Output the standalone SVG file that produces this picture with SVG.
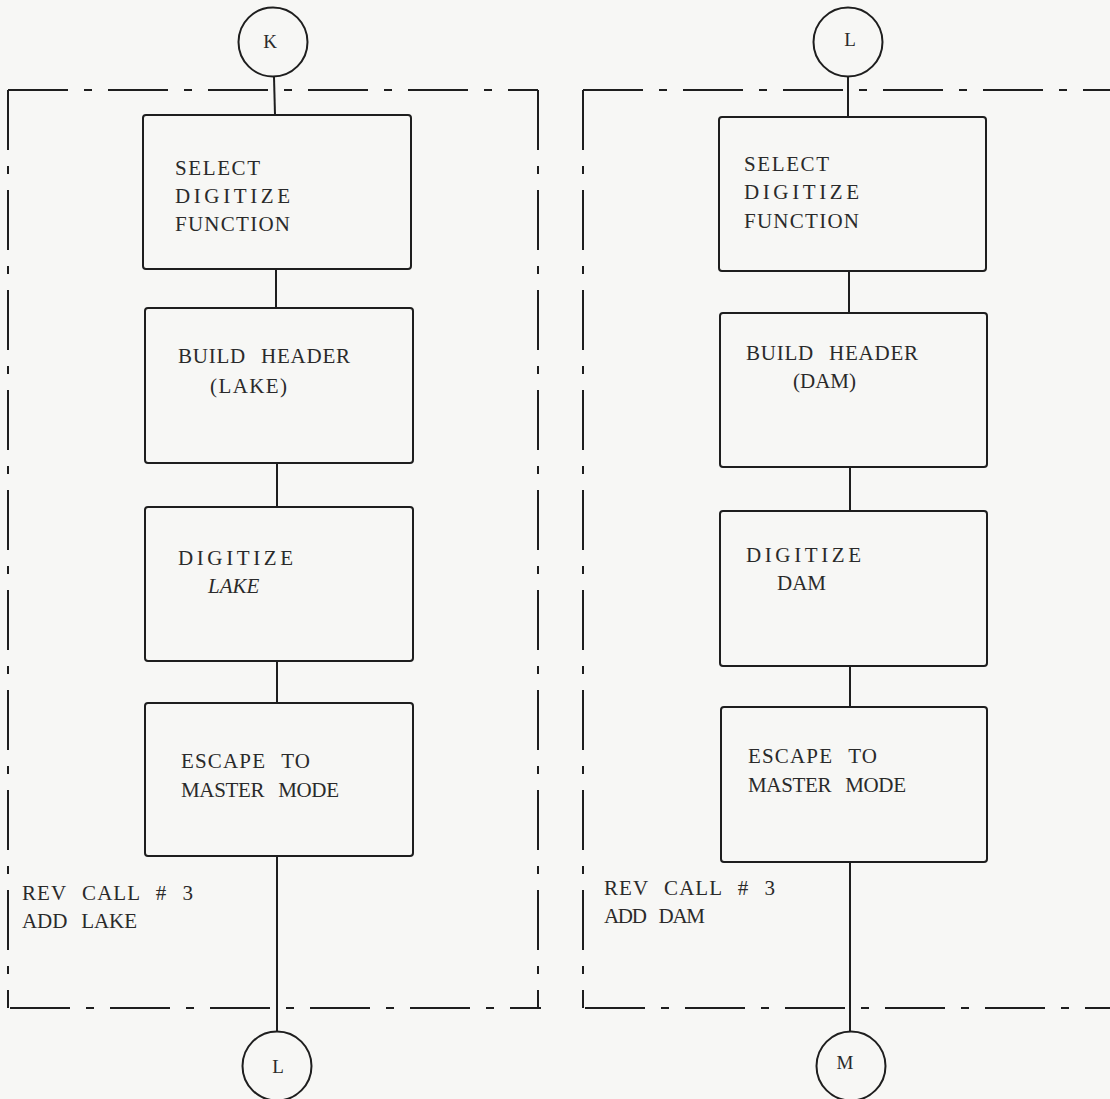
<svg xmlns="http://www.w3.org/2000/svg" width="1110" height="1099" viewBox="0 0 1110 1099">
<style>
  .box { fill: none; stroke: #1e1e1e; stroke-width: 2; }
  .conn { fill: none; stroke: #1e1e1e; stroke-width: 2; }
  .frame { fill: none; stroke: #1e1e1e; stroke-width: 2; stroke-dasharray: 60 16 8 16; }
  .t { font-family: "Liberation Serif", "Times New Roman", serif; font-size: 21px; fill: #2a2a2a; word-spacing: 9px; }
  .c { font-family: "Liberation Serif", "Times New Roman", serif; font-size: 19px; fill: #2a2a2a; text-anchor: middle; }
</style>
<rect x="0" y="0" width="1110" height="1099" fill="#f7f7f5"/>

<g id="frames">
  <path class="frame" d="M8 90 H538"/>
  <path class="frame" d="M538 90 V1008"/>
  <path class="frame" d="M8 90 V1008"/>
  <path class="frame" d="M10 1008 H541"/>
  <path class="frame" d="M583 90 H1110"/>
  <path class="frame" d="M583 90 V1008"/>
  <path class="frame" d="M585 1008 H1110"/>
</g>

<g id="connectors">
  <line class="conn" x1="274" y1="77" x2="275" y2="115"/>
  <line class="conn" x1="276" y1="269" x2="276" y2="308"/>
  <line class="conn" x1="277" y1="463" x2="277" y2="507"/>
  <line class="conn" x1="277" y1="661" x2="277" y2="703"/>
  <line class="conn" x1="277" y1="856" x2="277" y2="1031"/>
  <line class="conn" x1="848" y1="77" x2="848" y2="117"/>
  <line class="conn" x1="849" y1="271" x2="849" y2="313"/>
  <line class="conn" x1="850" y1="467" x2="850" y2="511"/>
  <line class="conn" x1="850" y1="666" x2="850" y2="707"/>
  <line class="conn" x1="850" y1="862" x2="850" y2="1031"/>
</g>

<g id="K">
  <circle class="box" cx="273" cy="42" r="34.5"/>
  <text class="c" x="270" y="48">K</text>
</g>
<g id="L_top">
  <circle class="box" cx="848" cy="42" r="34.5"/>
  <text class="c" x="850" y="46">L</text>
</g>
<g id="L_bottom">
  <circle class="box" cx="277" cy="1066" r="34.5"/>
  <text class="c" x="278" y="1073">L</text>
</g>
<g id="M">
  <circle class="box" cx="851" cy="1066" r="34.5"/>
  <text class="c" x="845" y="1069">M</text>
</g>

<g id="lake_select">
  <rect class="box" x="143" y="115" width="268" height="154" rx="3"/>
  <text class="t" x="175" y="175" textLength="85" lengthAdjust="spacing">SELECT</text>
  <text class="t" x="175" y="203" textLength="115" lengthAdjust="spacing">DIGITIZE</text>
  <text class="t" x="175" y="231" textLength="115" lengthAdjust="spacing">FUNCTION</text>
</g>
<g id="lake_header">
  <rect class="box" x="145" y="308" width="268" height="155" rx="3"/>
  <text class="t" x="178" y="363" textLength="172" lengthAdjust="spacing">BUILD HEADER</text>
  <text class="t" x="210" y="393" textLength="77" lengthAdjust="spacing">(LAKE)</text>
</g>
<g id="lake_digitize">
  <rect class="box" x="145" y="507" width="268" height="154" rx="3"/>
  <text class="t" x="178" y="565" textLength="115" lengthAdjust="spacing">DIGITIZE</text>
  <text class="t" x="208" y="593" font-style="italic" font-size="19">LAKE</text>
</g>
<g id="lake_escape">
  <rect class="box" x="145" y="703" width="268" height="153" rx="3"/>
  <text class="t" x="181" y="768" textLength="129" lengthAdjust="spacing">ESCAPE TO</text>
  <text class="t" x="181" y="797" textLength="158" lengthAdjust="spacing">MASTER MODE</text>
</g>
<g id="lake_note">
  <text class="t" x="22" y="900" textLength="171" lengthAdjust="spacing">REV CALL # 3</text>
  <text class="t" x="22" y="928" textLength="115" lengthAdjust="spacing">ADD LAKE</text>
</g>

<g id="dam_select">
  <rect class="box" x="719" y="117" width="267" height="154" rx="3"/>
  <text class="t" x="744" y="171" textLength="85" lengthAdjust="spacing">SELECT</text>
  <text class="t" x="744" y="199" textLength="115" lengthAdjust="spacing">DIGITIZE</text>
  <text class="t" x="744" y="228" textLength="115" lengthAdjust="spacing">FUNCTION</text>
</g>
<g id="dam_header">
  <rect class="box" x="720" y="313" width="267" height="154" rx="3"/>
  <text class="t" x="746" y="360" textLength="172" lengthAdjust="spacing">BUILD HEADER</text>
  <text class="t" x="793" y="388">(DAM)</text>
</g>
<g id="dam_digitize">
  <rect class="box" x="720" y="511" width="267" height="155" rx="3"/>
  <text class="t" x="746" y="562" textLength="115" lengthAdjust="spacing">DIGITIZE</text>
  <text class="t" x="777" y="590" font-size="19">DAM</text>
</g>
<g id="dam_escape">
  <rect class="box" x="721" y="707" width="266" height="155" rx="3"/>
  <text class="t" x="748" y="763" textLength="129" lengthAdjust="spacing">ESCAPE TO</text>
  <text class="t" x="748" y="792" textLength="158" lengthAdjust="spacing">MASTER MODE</text>
</g>
<g id="dam_note">
  <text class="t" x="604" y="895" textLength="171" lengthAdjust="spacing">REV CALL # 3</text>
  <text class="t" x="604" y="923" textLength="101" lengthAdjust="spacing">ADD DAM</text>
</g>
</svg>
